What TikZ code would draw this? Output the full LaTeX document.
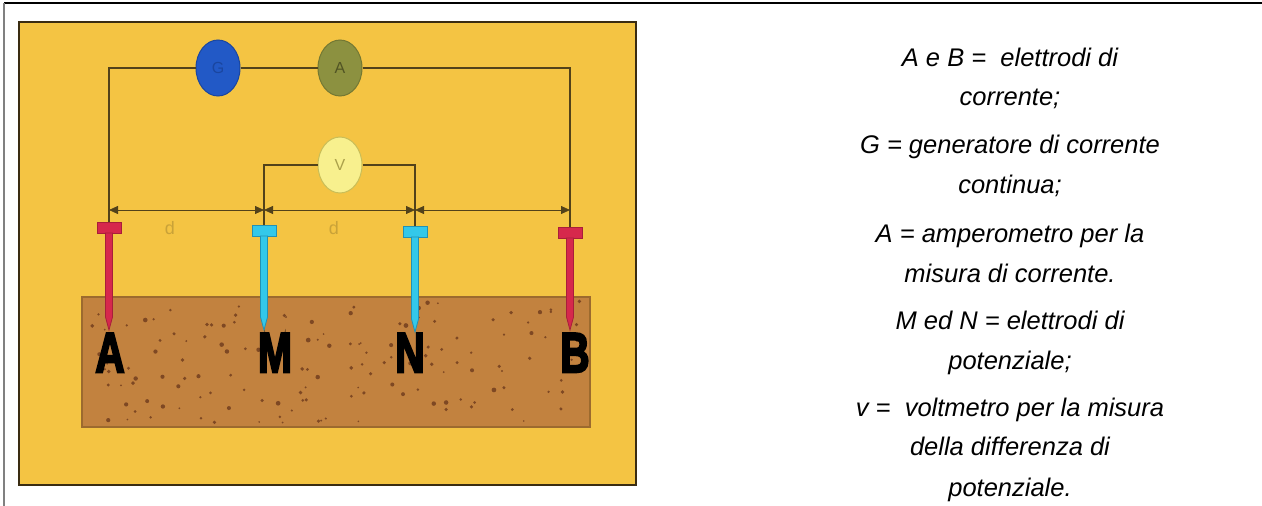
\documentclass[tikz,border=0pt]{standalone}
\usepackage{fontspec}
\setmainfont{Liberation Sans}
\newfontfamily\heavyfont{Liberation Sans Bold}[FakeBold=4.5]
\usetikzlibrary{shapes.geometric,arrows.meta}

\definecolor{panelfill}{HTML}{F4C443}
\definecolor{panelline}{HTML}{3A2C12}
\definecolor{soilfill}{HTML}{C2823F}
\definecolor{soilline}{HTML}{9C6A2E}
\definecolor{soildot}{HTML}{6E3A1C}
\definecolor{wirecol}{HTML}{52421A}
\definecolor{genfill}{HTML}{2259C6}
\definecolor{genline}{HTML}{1A46A0}
\definecolor{ammfill}{HTML}{8C9140}
\definecolor{ammline}{HTML}{737833}
\definecolor{voltfill}{HTML}{F8F08E}
\definecolor{voltline}{HTML}{C9BE58}
\definecolor{rodred}{HTML}{D6284C}
\definecolor{rodredline}{HTML}{A81E3A}
\definecolor{rodcyan}{HTML}{33C8EA}
\definecolor{rodcyanline}{HTML}{2391B4}
\definecolor{dlabel}{HTML}{C9A238}

% one electrode: x position, top of head, fill, outline, tip depth
\newcommand{\drawrod}[5]{%
  \filldraw[fill=#3,draw=#4,line width=0.8pt]
    ({#1-12},#2) rectangle ({#1+12},{#2+11});
  \filldraw[fill=#3,draw=#4,line width=0.8pt]
    ({#1-3.5},{#2+11}) -- ({#1-3.5},{#5-13}) -- (#1,#5)
    -- ({#1+3.5},{#5-13}) -- ({#1+3.5},{#2+11}) -- cycle;
}

\begin{document}
\begin{tikzpicture}[x=1pt,y=-1pt,
  wire/.style={draw=wirecol,line width=1.1pt},
  dimline/.style={draw=wirecol,line width=0.8pt,
    {Triangle[length=9pt,width=8pt]}-{Triangle[length=9pt,width=8pt]}},
  meter/.style={ellipse,minimum width=44pt,minimum height=56pt,inner sep=0pt,
    line width=1pt,font=\fontsize{16}{16}\selectfont},
  rodlabel/.style={anchor=base,inner sep=0pt,xscale=0.72,
    font=\heavyfont\fontsize{56}{56}\selectfont},
  dmark/.style={text=dlabel,font=\fontsize{18}{18}\selectfont},
  legend/.style={anchor=base,inner sep=0pt,
    font=\itshape\fontsize{25.5}{30}\selectfont}]

\useasboundingbox (0,0) rectangle (1262,506);

% page frame lines
\draw[black,line width=1.6pt] (4,3) -- (1262,3);
\draw[black!50,line width=1.6pt] (4,3) -- (4,506);

% yellow panel
\filldraw[fill=panelfill,draw=panelline,line width=1.6pt] (19,22) rectangle (636,485);

% soil block with scattered grains
\filldraw[fill=soilfill,draw=soilline,line width=1.2pt] (82,297) rectangle (590,427);
\pgfmathsetseed{7341}
\foreach \i in {1,...,150}{
  \pgfmathsetmacro{\gx}{86+rnd*500}
  \pgfmathsetmacro{\gy}{301+rnd*122}
  \pgfmathsetmacro{\gr}{0.9+rnd*1.5}
  \fill[soildot,opacity=0.8] (\gx,\gy) circle (\gr);
}

% electrodes
\drawrod{109}{222}{rodred}{rodredline}{330}
\drawrod{264}{225}{rodcyan}{rodcyanline}{330}
\drawrod{415}{226}{rodcyan}{rodcyanline}{332}
\drawrod{570}{227}{rodred}{rodredline}{330}

\coordinate (pA) at (109,222);
\coordinate (pM) at (264,225);
\coordinate (pN) at (415,226);
\coordinate (pB) at (570,227);

% instruments
\node[meter,fill=genfill,draw=genline,text=genline] (gen) at (218,68) {G};
\node[meter,fill=ammfill,draw=ammline,text=ammline!70!black] (amm) at (340,68) {A};
\node[meter,fill=voltfill,draw=voltline,text=voltline!85!black] (volt) at (340,165) {V};

% current circuit
\draw[wire] (pA) |- (gen.west);
\draw[wire] (gen.east) -- (amm.west);
\draw[wire] (amm.east) -| (pB);
% potential circuit
\draw[wire] (pM) |- (volt.west);
\draw[wire] (volt.east) -| (pN);

% spacing dimensions
\coordinate (dA) at (109,210);
\coordinate (dM) at (264,210);
\coordinate (dN) at (415,210);
\coordinate (dB) at (570,210);
\draw[dimline] (dA) -- (dM);
\draw[dimline] (dM) -- (dN);
\draw[dimline] (dN) -- (dB);
\node[dmark] (d1) at (170,228) {d};
\node[dmark] (d2) at (334,228) {d};

% electrode letters
\node[rodlabel] (lA) at (110,372) {A};
\node[rodlabel] (lM) at (275,372) {M};
\node[rodlabel] (lN) at (410,372) {N};
\node[rodlabel] (lB) at (575,372) {B};

% legend
\node[legend] (t1)  at (1010,66)  {A e B =\ \ elettrodi di};
\node[legend] (t2)  at (1010,105) {corrente;};
\node[legend] (t3)  at (1010,153) {G = generatore di corrente};
\node[legend] (t4)  at (1010,193) {continua;};
\node[legend] (t5)  at (1010,242) {A = amperometro per la};
\node[legend] (t6)  at (1010,282) {misura di corrente.};
\node[legend] (t7)  at (1010,329) {M ed N = elettrodi di};
\node[legend] (t8)  at (1010,369) {potenziale;};
\node[legend] (t9)  at (1010,416) {v =\ \ voltmetro per la misura};
\node[legend] (t10) at (1010,455) {della differenza di};
\node[legend] (t11) at (1010,496) {potenziale.};

\end{tikzpicture}
\end{document}
